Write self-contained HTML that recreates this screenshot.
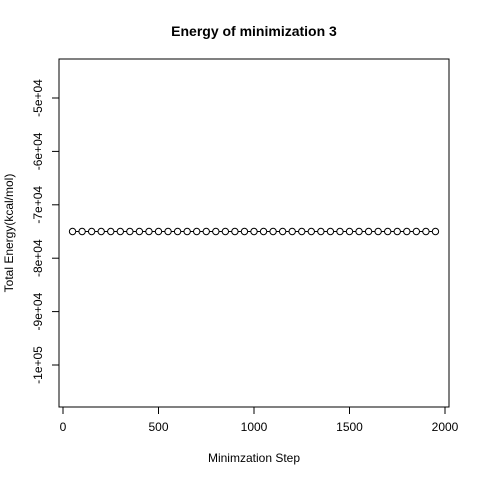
<!DOCTYPE html>
<html><head><meta charset="utf-8"><style>body{margin:0;background:#fff}svg{font-family:"Liberation Sans",sans-serif}</style></head>
<body>
<svg id="c" width="480" height="480">
<rect width="480" height="480" fill="#fff"/>
<text x="254" y="36" text-anchor="middle" font-size="14" font-weight="bold">Energy of minimization 3</text>
<rect x="59" y="59" width="390" height="348" fill="none" stroke="#000"/>
<text x="254" y="462" text-anchor="middle" font-size="12">Minimzation Step</text>
<text transform="translate(13,233) rotate(-90)" text-anchor="middle" font-size="12">Total Energy(kcal/mol)</text>
<g id="ax"></g><g id="marks"></g>
</svg>
<script>
const steps=[50,100,150,200,250,300,350,400,450,500,550,600,650,700,750,800,850,900,950,1000,1050,1100,1150,1200,1250,1300,1350,1400,1450,1500,1550,1600,1650,1700,1750,1800,1850,1900,1950];
const energies=[-75000,-75000,-75000,-75000,-75000,-75000,-75000,-75000,-75000,-75000,-75000,-75000,-75000,-75000,-75000,-75000,-75000,-75000,-75000,-75000,-75000,-75000,-75000,-75000,-75000,-75000,-75000,-75000,-75000,-75000,-75000,-75000,-75000,-75000,-75000,-75000,-75000,-75000,-75000];
const xTicks=[0,500,1000,1500,2000];
const yTicks=[-50000,-60000,-70000,-80000,-90000,-100000];
const yLabels=["-5e+04","-6e+04","-7e+04","-8e+04","-9e+04","-1e+05"];
const NS="http://www.w3.org/2000/svg";
const sx=v=>63+(v/2000)*382;
const sy=v=>98+((-50000-v)/10000)*53.4;
function mk(t,a,p){const e=document.createElementNS(NS,t);for(const k in a)e.setAttribute(k,a[k]);p.appendChild(e);return e;}
const ax=document.getElementById('ax'),mg=document.getElementById('marks');
mk('line',{x1:sx(0),x2:sx(2000),y1:407,y2:407,stroke:'#000'},ax);
xTicks.forEach(v=>{
 const l=mk('line',{x1:sx(v),x2:sx(v),y1:407,y2:414,stroke:'#000'},ax);
 
 
 const t=mk('text',{x:sx(v),y:431,'text-anchor':'middle','font-size':'12'},ax);t.textContent=v;
 
 
});
mk('line',{x1:59,x2:59,y1:sy(-50000),y2:sy(-100000),stroke:'#000'},ax);
yTicks.forEach((v,i)=>{
 const l=mk('line',{x1:52,x2:59,y1:sy(v),y2:sy(v),stroke:'#000'},ax);
 
 
 const t=mk('text',{transform:`translate(42,${sy(v)}) rotate(-90)`,'text-anchor':'middle','font-size':'12'},ax);t.textContent=yLabels[i];
 
 
});
const pts=steps.map((s,i)=>sx(s)+','+sy(energies[i])).join(' ');
const pl=mk('polyline',{points:pts,fill:'none',stroke:'#000'},mg);


steps.forEach((s,i)=>{
 const c=mk('circle',{cx:sx(s),cy:sy(energies[i]),r:3.2,fill:'#fff',stroke:'#000'},mg);
 
 
});
</script>
</body></html>
